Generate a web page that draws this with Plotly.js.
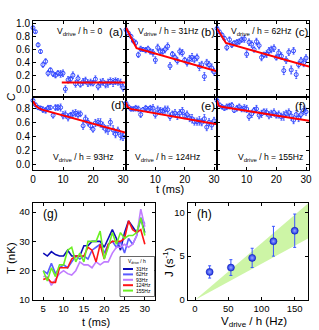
<!DOCTYPE html>
<html><head><meta charset="utf-8">
<script src="https://cdn.plot.ly/plotly-3.0.1.min.js"></script>
<style>html,body{margin:0;padding:0;background:#fff;overflow:hidden}#plot{width:319px;height:330px}</style>
</head><body><div id="plot"></div>
<script>
const FONT = 'Liberation Sans, Arial, Helvetica, sans-serif';
const W = 319, H = 330;
const px = v => v / W;
const py = v => 1 - v / H;

// ---- panels (a)-(f): coherence C vs t ----
const tC = [0,0.8,1.7,2.5,3.3,4.2,5,5.8,6.7,7.5,8.3,9.2,10,10.8,11.7,12.5,13.3,14.2,15,15.8,16.7,17.5,18.3,19.2,20,20.8,21.7,22.5,23.3,24.2,25,25.8,26.7,27.5,28.3,29.2,30];
const cA = [0.93,0.87,0.67,0.57,0.37,0.42,0.24,0.29,0.23,0.21,0.24,0.23,0.24,0.0,0.14,0.15,0.21,0.08,0.16,0.07,0.11,0.13,0.09,0.10,0.09,0.15,0.04,0.09,0.11,0.07,0.09,0.12,0.10,0.12,0.11,0.09,0.02];
const cB = [0.90,0.85,0.80,0.73,0.70,0.52,0.61,0.60,0.59,0.61,0.57,0.55,0.44,0.63,0.57,0.57,0.60,0.65,0.35,0.53,0.48,0.43,0.57,0.55,0.44,0.40,0.46,0.48,0.45,0.48,0.34,0.37,0.19,0.40,0.37,0.32,0.26];
const cC = [0.92,0.87,0.82,0.77,0.63,0.75,0.67,0.70,0.71,0.72,0.75,0.76,0.53,0.71,0.68,0.60,0.72,0.66,0.48,0.52,0.53,0.58,0.60,0.62,0.48,0.55,0.50,0.28,0.44,0.56,0.29,0.58,0.22,0.37,0.43,0.40,0.47];
const cD = [0.91,0.85,0.81,0.80,0.78,0.77,0.80,0.81,0.70,0.81,0.81,0.81,0.70,0.71,0.67,0.70,0.72,0.73,0.71,0.72,0.55,0.65,0.60,0.55,0.50,0.59,0.60,0.59,0.55,0.50,0.49,0.60,0.49,0.43,0.48,0.41,0.39];
const cE = [0.87,0.82,0.79,0.79,0.80,0.79,0.71,0.78,0.80,0.78,0.80,0.80,0.71,0.78,0.76,0.76,0.78,0.78,0.68,0.72,0.73,0.69,0.73,0.76,0.69,0.71,0.66,0.65,0.61,0.61,0.62,0.60,0.65,0.53,0.60,0.56,0.62];
const cF = [0.91,0.85,0.82,0.80,0.82,0.83,0.84,0.77,0.80,0.82,0.79,0.80,0.79,0.68,0.72,0.77,0.79,0.70,0.72,0.75,0.74,0.70,0.72,0.74,0.70,0.71,0.68,0.69,0.72,0.74,0.69,0.63,0.71,0.66,0.71,0.77,0.75];
const errC = [0.02,0.02,0.03,0.03,0.04,0.04,0.04,0.03,0.04,0.04,0.04,0.05,0.05,0.05,0.05,0.04,0.05,0.05,0.05,0.04,0.05,0.05,0.05,0.05,0.04,0.05,0.05,0.06,0.05,0.05,0.06,0.05,0.06,0.05,0.05,0.06,0.05];

const fitAt = [9.6, 31],            fitAc = [0.10, 0.10];
const fitBt = [0, 3.6, 31],         fitBc = [0.93, 0.62, 0.27];
const fitCt = [0, 3.0, 31],         fitCc = [0.92, 0.70, 0.34];
const fitDt = [0, 0.5, 1, 2, 3, 31], fitDc = [0.90, 0.86, 0.83, 0.80, 0.78, 0.45];
const fitEt = [0, 0.5, 1.5, 31],    fitEc = [0.88, 0.82, 0.79, 0.57];
const fitFt = [0, 0.5, 1.5, 31],    fitFc = [0.91, 0.84, 0.82, 0.62];

const panelTags = ['(a)','(b)','(c)','(d)','(e)','(f)'];
const driveTexts = ['V<sub>drive</sub> / h = 0','V<sub>drive</sub> / h = 31Hz','V<sub>drive</sub> / h = 62Hz',
                    'V<sub>drive</sub> / h = 93Hz','V<sub>drive</sub> / h = 124Hz','V<sub>drive</sub> / h = 155Hz'];
const tTickVals = [0, 10, 20, 30];
const tTickTextFirst = ['0', '10', '20', '30'];
const tTickTextRest = ['', '10', '20', '30'];

// ---- panel (g): temperature ----
const tT = [5,6,7,8,9,10,11,12,13,14,15,16,17,18,19,20,21,22,23,24,25,26,27,28,29,30];
const T31  = [26,25,26.5,25.5,25,25,27,25,25,25,28.5,28.5,30,30,30,28,31,34,31,27,33,37,35,33,38,33];
const T62  = [20,19,22.5,19,21,22,21,23,25,24,25,24,27,28,29,26,29,30,28,30,26,31,29,32,38,36];
const T93  = [18,18,15,17,19,20,19,18.5,20,23,22,22,21,23,22,23,23,26,28,28,29,28,29,32,41,35];
const T124 = [17,17.5,16,16,21,21,21,24,25,25,25,28,27,23,29,24,29,30,30,30,31,37,34,33,34,29];
const T155 = [20,16.5,21,18,22,22,27,28,23,26,23,30,30,30,33.5,24,28,33,29,33,31,32,32,33,38,32];
const tempNames = ['31Hz','62Hz','93Hz','124Hz','155Hz'];

// ---- panel (h): J vs drive ----
const vDrive = [22, 54, 86, 118, 150];
const Jval = [3.2, 3.7, 4.8, 6.7, 7.9];
const Jerr = [0.7, 0.9, 1.1, 1.7, 1.9];
const bandV = [0, 170];
const bandLo = [0, 7.0];
const bandHi = [0, 11.0];

// ---------------- drawing ----------------
const BLUE = '#2f45ff';
const tempColors = ['#0c0cb8','#5a5cff','#c07cff','#ff1414','#6cf024'];
const cData = [cA,cB,cC,cD,cE,cF];
const fitT = [fitAt,fitBt,fitCt,fitDt,fitEt,fitFt];
const fitC = [fitAc,fitBc,fitCc,fitDc,fitEc,fitFc];

const colsPx = [[33,126],[126,217],[217,309]];
const rowsPx = [[20.5,97],[97,170]];

const traces = [];
const layout = {
  width: W, height: H, margin: {l:0,r:0,t:0,b:0},
  paper_bgcolor: '#fff', plot_bgcolor: 'rgba(0,0,0,0)',
  showlegend: false, font: {family: FONT, color: '#000'},
  annotations: [], shapes: []
};

function axis(dom, range, extra) {
  return Object.assign({
    domain: dom, range: range, showline: true, mirror: 'ticks', linecolor: '#000', linewidth: 1,
    ticks: 'inside', ticklen: 3, tickwidth: 1, tickcolor: '#000', showgrid: false, zeroline: false,
    fixedrange: true, tickfont: {family: FONT, size: 10, color: '#000'}
  }, extra || {});
}
function ann(text, x, y, size, extra) {
  layout.annotations.push(Object.assign({
    text: text, xref: 'paper', yref: 'paper', x: px(x), y: py(y), xanchor: 'center', yanchor: 'middle',
    showarrow: false, font: {family: FONT, size: size, color: '#000'}
  }, extra || {}));
}

for (let i = 0; i < 6; i++) {
  const n = i + 1, suf = n === 1 ? '' : String(n);
  const r = Math.floor(i / 3), c = i % 3;
  const xa = 'x' + suf, ya = 'y' + suf;
  traces.push({
    type: 'scatter', mode: 'markers', x: tC, y: cData[i], xaxis: xa, yaxis: ya, cliponaxis: false,
    marker: {symbol: 'circle-open', size: 4, color: BLUE, line: {width: 1, color: BLUE}},
    error_y: {type: 'data', array: errC, visible: true, color: BLUE, thickness: 0.8, width: 1}
  });
  traces.push({
    type: 'scatter', mode: 'lines', x: fitT[i], y: fitC[i], xaxis: xa, yaxis: ya,
    line: {color: '#ff0000', width: 2}
  });
  const top = r === 0;
  layout['xaxis' + suf] = axis([px(colsPx[c][0]), px(colsPx[c][1])], [0, 31], {
    anchor: ya, tickmode: 'array', tickvals: tTickVals, ticktext: c === 0 ? tTickTextFirst : tTickTextRest,
    showticklabels: !top
  });
  layout['yaxis' + suf] = axis([py(rowsPx[r][1]), py(rowsPx[r][0])], top ? [-0.12, 1.04] : [-0.08, 0.96], {
    anchor: xa, tickvals: top ? [0,0.2,0.4,0.6,0.8,1.0] : [0,0.2,0.4,0.6,0.8], tickformat: '.1f',
    showticklabels: c === 0
  });
}

// panel texts
const tagPos = [[116,32],[208,32],[301.5,32],[117.5,105],[207.5,106],[300,106]];
const drivePos = [[80,31],[168,31],[261,31],[83.5,157],[167.5,157],[270,157]];
for (let i = 0; i < 6; i++) {
  ann(panelTags[i], tagPos[i][0], tagPos[i][1], 11.5);
  ann(driveTexts[i], drivePos[i][0], drivePos[i][1], 8.6);
}
ann('<i>C</i>', 11, 97, 11, {textangle: -90});
ann('t (ms)', 170, 189, 11);

// panel (g)
const Tser = [T31, T62, T93, T124, T155];
for (let k = 0; k < 5; k++) {
  traces.push({
    type: 'scatter', mode: 'lines', x: tT, y: Tser[k], xaxis: 'x7', yaxis: 'y7',
    line: {color: tempColors[k], width: 1.6}, name: tempNames[k]
  });
}
layout.xaxis7 = axis([px(32.7), px(155)], [2.4, 32.5], {anchor: 'y7', tickvals: [5,10,15,20,25,30], tickfont: {family: FONT, size: 9.5}});
layout.yaxis7 = axis([py(300), py(203)], [10, 43.1], {anchor: 'x7', tickvals: [10,20,30,40], tickfont: {family: FONT, size: 9.5}});
ann('(g)', 50, 214, 12);
ann('T (nK)', 11, 258, 11.5, {textangle: -90});
ann('t (ms)', 96, 322, 11);
// legend of (g)
layout.shapes.push({type: 'rect', xref: 'paper', yref: 'paper', x0: px(120), x1: px(154.5), y0: py(296.5), y1: py(256.5),
  line: {color: '#000', width: 0.6}, fillcolor: '#fff', layer: 'above'});
ann('V<sub>drive</sub> / h', 137, 261, 5);
for (let k = 0; k < 5; k++) {
  const yy = 269 + k * 5.4;
  layout.shapes.push({type: 'line', xref: 'paper', yref: 'paper', x0: px(123), x1: px(133), y0: py(yy), y1: py(yy),
    line: {color: tempColors[k], width: 2}, layer: 'above'});
  ann(tempNames[k], 134, yy, 5, {xanchor: 'left'});
}

// panel (h)
traces.push({type: 'scatter', mode: 'lines', x: bandV, y: bandLo, xaxis: 'x8', yaxis: 'y8',
  line: {width: 0, color: 'rgba(0,0,0,0)'}, hoverinfo: 'skip'});
traces.push({type: 'scatter', mode: 'lines', x: bandV, y: bandHi, xaxis: 'x8', yaxis: 'y8',
  line: {width: 0, color: 'rgba(0,0,0,0)'}, fill: 'tonexty', fillcolor: '#cdf5a6', hoverinfo: 'skip'});
traces.push({type: 'scatter', mode: 'markers', x: vDrive, y: Jval, xaxis: 'x8', yaxis: 'y8', cliponaxis: false,
  marker: {symbol: 'circle', size: 7, color: '#1a2fe8', gradient: {type: 'radial', color: '#9aaaff'}, line: {width: 0.6, color: '#1020b0'}},
  error_y: {type: 'data', array: Jerr, visible: true, color: '#3a55ff', thickness: 1, width: 1.5}});
layout.xaxis8 = axis([px(187.7), px(308)], [-11, 170], {anchor: 'y8', tickvals: [0,50,100,150], tickfont: {family: FONT, size: 9.5}});
layout.yaxis8 = axis([py(300), py(203)], [0, 11.06], {anchor: 'x8', tickvals: [0,5,10], tickfont: {family: FONT, size: 9.5}});
ann('(h)', 204, 214, 12);
ann('J (s<sup>-1</sup>)', 168, 262, 11.5, {textangle: -90});
ann('V<sub>drive</sub> / h (Hz)', 254, 322, 11.5);

Plotly.newPlot('plot', traces, layout, {staticPlot: true, displayModeBar: false});
</script></body></html>
